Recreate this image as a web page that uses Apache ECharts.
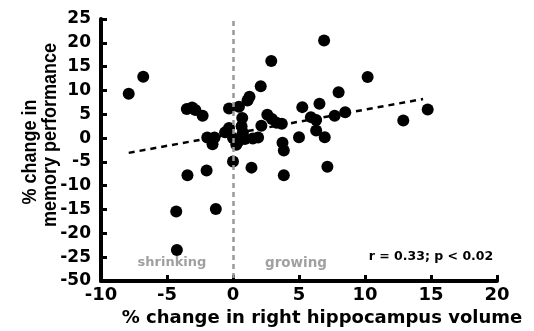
<!DOCTYPE html>
<html>
<head>
<meta charset="utf-8">
<script src="https://cdn.jsdelivr.net/npm/echarts@6/dist/echarts.min.js"></script>
<style>html,body{margin:0;padding:0;background:#fff}#c{width:534px;height:331px}</style>
</head>
<body>
<div id="c"></div>
<script>
// x: % change in right hippocampus volume, y: % change in memory performance
const pointsX = [-7.9,-6.8,-3.5,-3.1,-2.85,-2.3,-1.95,-1.4,-1.55,-3.45,-2.0,-4.3,-1.3,-4.25,-0.6,-0.3,-0.3,0.45,1.1,1.25,2.1,2.9,0.7,0.65,0.75,0.0,0.4,0.25,0.9,1.5,1.9,0.0,1.4,2.15,2.6,2.95,3.3,3.7,3.75,3.85,3.85,5.0,5.25,5.9,6.3,6.3,6.55,6.9,6.95,7.15,7.7,8.0,8.5,10.2,12.9,14.75];
const pointsY = [9.3,12.9,6.1,6.4,5.9,4.7,0.1,0.1,-1.3,-7.8,-6.8,-15.4,-14.9,-23.5,1.2,2.1,6.2,6.6,7.9,8.7,10.9,16.2,4.2,2.5,1.1,0.0,-0.7,-1.4,-0.2,-0.1,0.1,-4.9,-6.2,2.6,4.9,4.0,3.2,3.0,-1.0,-2.6,-7.8,0.2,6.5,4.4,3.8,1.6,7.2,20.5,0.2,-6.0,4.7,9.6,5.4,12.8,3.7,6.0];
const fitX = [-7.9, 14.4];
const fitY = [-3.1, 8.2];
// y axis has a break: the lowest tick (-30 on the linear scale) is labelled -50
const yTicks = [-30,-25,-20,-15,-10,-5,0,5,10,15,20,25];
const yTickLabels = ['-50','-25','-20','-15','-10','-5','0','5','10','15','20','25'];
const xTicks = [-10,-5,0,5,10,15,20];

const font = '"DejaVu Sans", sans-serif';
const fontN = '"Liberation Sans", Arial, sans-serif';
const chart = echarts.init(document.getElementById('c'));
chart.setOption({
  animation:false,
  backgroundColor:'#fff',
  grid:{left:101, right:37, top:19, bottom:50, containLabel:false, outerBoundsMode:'none'},
  xAxis:{type:'value', min:-10, max:20, interval:5,
    axisLine:{show:true, onZero:false, lineStyle:{color:'#000', width:4}},
    axisTick:{show:true, inside:true, length:6, lineStyle:{color:'#000', width:3}},
    axisLabel:{color:'#000', fontSize:18, fontWeight:'bold', fontFamily:font, margin:5,
      formatter:v=>xTicks.includes(v)?String(v):''},
    splitLine:{show:false}
  },
  yAxis:{type:'value', min:-30, max:25, interval:5,
    axisLine:{show:true, onZero:false, lineStyle:{color:'#000', width:4}},
    axisTick:{show:true, inside:true, length:6, lineStyle:{color:'#000', width:3}},
    axisLabel:{color:'#000', fontSize:17, fontWeight:'bold', fontFamily:font, margin:10,
      formatter:v=>{const i=yTicks.indexOf(v);return i>=0?yTickLabels[i]:'';}},
    splitLine:{show:false}
  },
  graphic:[
    {type:'text', x:30, y:152, rotation:Math.PI/2, scaleY:1.15, style:{text:'% change in', font:'bold 18px '+fontN, fill:'#000', align:'center', verticalAlign:'middle'}},
    {type:'text', x:50, y:135, rotation:Math.PI/2, scaleY:1.15, style:{text:'memory performance', font:'bold 18px '+fontN, fill:'#000', align:'center', verticalAlign:'middle'}},
    {type:'text', x:322, y:318, style:{text:'% change in right hippocampus volume', font:'bold 18px '+font, fill:'#000', align:'center', verticalAlign:'middle'}},
    {type:'text', x:172, y:263, style:{text:'shrinking', font:'bold 13px '+font, fill:'#a0a0a0', align:'center', verticalAlign:'middle'}},
    {type:'text', x:296, y:263, style:{text:'growing', font:'bold 13.5px '+font, fill:'#a0a0a0', align:'center', verticalAlign:'middle'}},
    {type:'text', x:431, y:257, style:{text:'r = 0.33; p < 0.02', font:'bold 12.5px '+font, fill:'#000', align:'center', verticalAlign:'middle'}}
  ],
  series:[
    {type:'line', data:fitX.map((x,i)=>[x,fitY[i]]), symbol:'none', z:1,
      lineStyle:{color:'#000', width:2.5, type:[6,5]},
      markLine:{silent:true, symbol:'none', label:{show:false},
        lineStyle:{color:'#999', width:2.5, type:[5,4]},
        data:[[{coord:[0,24.6]},{coord:[0,-30]}]]}
    },
    {type:'scatter', data:pointsX.map((x,i)=>[x,pointsY[i]]), symbol:'circle', symbolSize:12, z:3,
      itemStyle:{color:'#000', opacity:1}}
  ]
});
</script>
</body>
</html>
